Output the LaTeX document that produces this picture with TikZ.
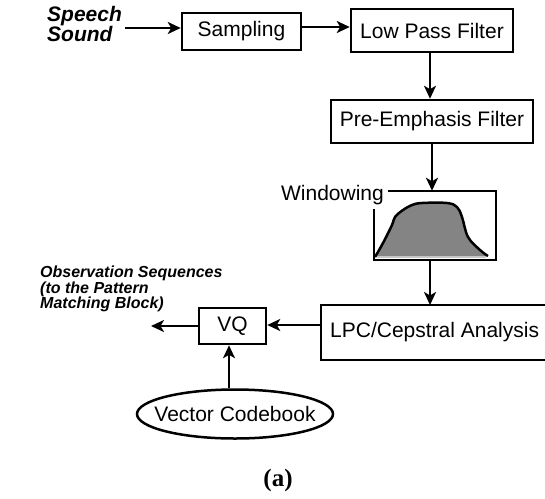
\documentclass[tikz,border=0pt]{standalone}
\usepackage{fontspec}
\setmainfont{Liberation Sans}
\newfontfamily\capserif{Liberation Serif}
\usetikzlibrary{arrows.meta,shapes.geometric}
\begin{document}
\begin{tikzpicture}[x=1pt,y=-1pt,
  box/.style={draw,line width=2.5pt,rectangle,inner sep=0pt,font=\fontsize{21}{25}\selectfont},
  arr/.style={line width=2.5pt,-{Stealth[length=13pt,width=12pt,inset=3.5pt]}},
  lbl/.style={font=\fontsize{16}{15.5}\selectfont\bfseries\itshape,align=left,inner sep=0pt}]
\useasboundingbox (0,0) rectangle (545,498);

\node[lbl,font=\fontsize{21}{14}\selectfont\bfseries\itshape,anchor=west] (speech) at (47,24) {Speech\\Sound};
\node[box,minimum width=119pt,minimum height=37pt] (samp) at (241.5,31.5) {Sampling};
\node[box,minimum width=162pt,minimum height=43pt] (lpf) at (432,30.5) {Low Pass Filter};
\node[box,minimum width=202pt,minimum height=43pt] (pef) at (432,121.5) {Pre-Emphasis Filter};
\node[inner sep=0pt,minimum width=122pt,minimum height=69pt] (win) at (435,225.5) {};
\node[font=\fontsize{21}{25}\selectfont,anchor=base east,inner sep=0pt] (winlbl) at (384,200) {Windowing};
\node[inner sep=0pt,font=\fontsize{21}{25}\selectfont,anchor=west] (lpc) at (330,332.5) {LPC/Cepstral Analysis};
\coordinate (lpcn) at (430,305);
\coordinate (lpcw) at (321,325);
\node[box,minimum width=67pt,minimum height=36pt] (vq) at (232.5,326) {VQ};
\node[lbl,anchor=north west] (obs) at (40,266) {Observation Sequences\\(to the Pattern\\Matching Block)};
\coordinate (out) at (151,326);
\node[draw,ellipse,line width=2.5pt,inner sep=0pt,minimum width=196pt,minimum height=49pt,
  label={[font=\fontsize{21}{25}\selectfont,inner sep=0pt]center:Vector Codebook}] (cb) at (235,414) {};
\node[font=\fontsize{25}{28}\selectfont\capserif\bfseries] (cap) at (278,480) {(a)};

% LPC box (right side beyond the picture)
\draw[line width=2.5pt] (546,305) -- (321,305) -- (321,360) -- (546,360);
% window box with broken corner
\draw[line width=2.5pt] (388,191) -- (496,191) -- (496,260) -- (374,260) -- (374,209);
% window shape
\fill[fill={rgb,255:red,132;green,132;blue,132}] plot[smooth,tension=0.6] coordinates {(375,257) (383,243) (392,225) (395,217) (403,210) (412,205) (422,203) (447,203) (457,207) (462,217) (468,237) (480,250) (488,256)} -- cycle;
\draw[line width=2.5pt,line join=round] plot[smooth,tension=0.6] coordinates {(375,257) (383,243) (392,225) (395,217) (403,210) (412,205) (422,203) (447,203) (457,207) (462,217) (468,237) (480,250) (488,256)};
\draw[line width=1.2pt,gray!45] (377,257) -- (486,257);

% connectors
\draw[arr] (speech.east |- 0,28) ++(3,0) -- (samp.west |- 0,28);
\draw[arr] (samp.east |- 0,27) -- (lpf.west |- 0,27);
\draw[arr] (lpf.south -| 430,0) -- (pef.north -| 430,0);
\draw[arr] (pef.south -| 432,0) -- (win.north -| 432,0);
\draw[arr] (win.south -| 430,0) -- (lpcn);
\draw[arr] (lpcw) -- (vq.east |- lpcw);
\draw[arr] (vq.west) -- (out);
\draw[arr] (cb.north -| 229,0) -- (vq.south -| 229,0);
\end{tikzpicture}
\end{document}
